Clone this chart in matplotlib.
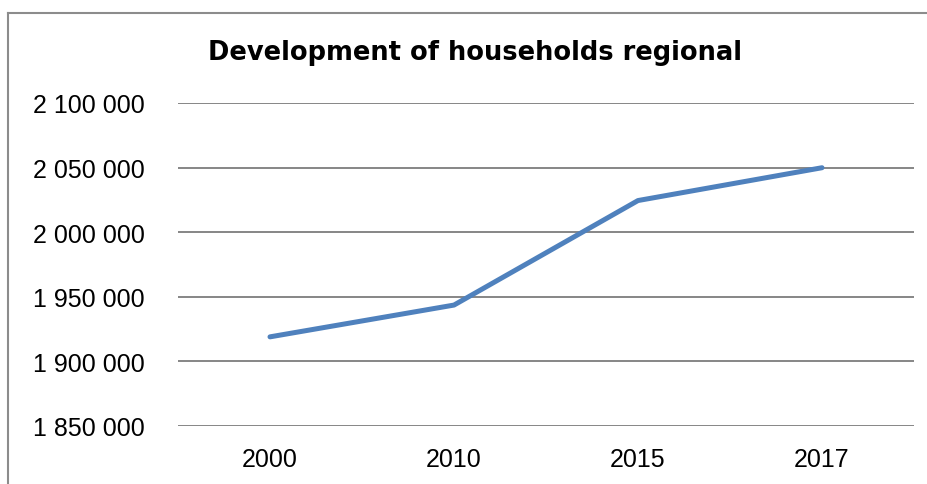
import matplotlib
matplotlib.use("Agg")
import matplotlib.pyplot as plt
from matplotlib import lines
from matplotlib.ticker import FuncFormatter

years = ["2000", "2010", "2015", "2017"]
households = [1919000, 1943600, 2024500, 2049900]
y_ticks = [1850000, 1900000, 1950000, 2000000, 2050000, 2100000]

BLUE = "#4F81BD"
GRID = "#868686"
FRAME = "#8c8c8c"

plt.rcParams["font.family"] = ["Liberation Sans", "DejaVu Sans"]

fig = plt.figure(figsize=(9.28, 4.85), dpi=100)
fig.set_facecolor("white")
ax = fig.add_axes([178 / 928, 1 - 427 / 485, (914 - 178) / 928, (427 - 104) / 485])

x = range(len(years))
ax.plot(x, households, color=BLUE, lw=3.6, solid_capstyle="round", solid_joinstyle="round", zorder=3)

ax.set_xlim(-0.5, len(years) - 0.5)
ax.set_ylim(y_ticks[0], y_ticks[-1])
ax.set_xticks(list(x))
ax.set_xticklabels(years)
ax.set_yticks(y_ticks)
# thousands separated by a space
ax.yaxis.set_major_formatter(FuncFormatter(lambda v, p: f"{int(v):,}".replace(",", " ")))
ax.tick_params(axis="both", length=0, labelsize=18, colors="black")
ax.tick_params(axis="y", pad=24)
ax.tick_params(axis="x", pad=15)

ax.grid(axis="y", color=GRID, lw=1.4)
ax.set_axisbelow(True)
for s in ax.spines.values():
    s.set_visible(False)

fig.text(475 / 928, 1 - 53 / 485, "Development of households regional",
         ha="center", va="center", fontsize=18.5, fontweight="bold",
         family=["DejaVu Sans"])

# outer chart frame (right and bottom edges fall outside the picture)
fig.add_artist(lines.Line2D([7.5 / 928, 7.5 / 928], [0, 1 - 13.5 / 485], color=FRAME, lw=1.5))
fig.add_artist(lines.Line2D([7.5 / 928, 1], [1 - 13.5 / 485, 1 - 13.5 / 485], color=FRAME, lw=1.5))

fig.savefig("out.png", dpi=100)
